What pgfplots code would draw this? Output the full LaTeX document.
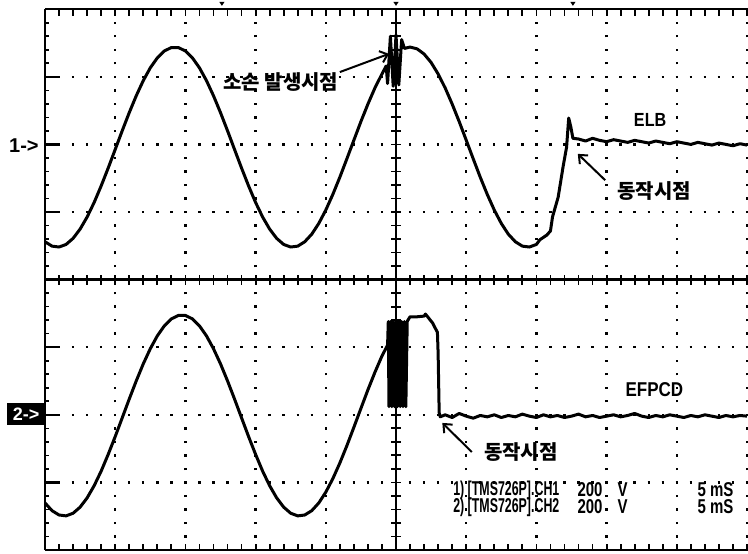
\documentclass[border=0pt]{standalone}
\usepackage{pgfplots}
\pgfplotsset{compat=1.18}
\usepackage{graphicx}
\usepackage{fontspec}
\setmainfont{Liberation Sans}
\newfontfamily\kr{Noto Sans CJK KR}
\usetikzlibrary{arrows.meta}

% one division = 70.2 px wide, 67.6 px high; 1 px = 0.5pt
\begin{document}
\begin{tikzpicture}
\begin{axis}[
  at={(0,0)}, anchor=south west,
  scale only axis, width=351pt, height=270.4pt,
  xmin=0, xmax=10, ymin=0, ymax=8,
  xtick={1,2,3,4,6,7,8,9,10}, ytick={1,2,3,5,6,7},
  xticklabels={}, yticklabels={},
  major tick length=0pt,
  axis line style={draw=none},
  grid=major,
  x grid style={black, line width=1.2pt, dash pattern=on 1.2pt off 5.56pt, dash phase=0.6pt},
  y grid style={black, line width=1.2pt, dash pattern=on 1.2pt off 5.82pt, dash phase=0.6pt},
  clip=false,
]
% CH1 (ELB)
\addplot[black, line width=1.5pt, line join=round] coordinates {
(0.0,4.56)(0.1,4.495)(0.2,4.482)(0.3,4.52)(0.4,4.61)(0.5,4.747)(0.6,4.926)(0.7,5.141)
(0.8,5.386)(0.9,5.65)(1.0,5.925)(1.1,6.202)(1.2,6.47)(1.3,6.72)(1.4,6.944)(1.5,7.133)
(1.6,7.28)(1.7,7.382)(1.8,7.433)(1.9,7.433)(2.0,7.382)(2.1,7.28)(2.2,7.133)(2.3,6.944)
(2.4,6.72)(2.5,6.47)(2.6,6.202)(2.7,5.925)(2.8,5.65)(2.9,5.386)(3.0,5.141)(3.1,4.926)
(3.2,4.747)(3.3,4.61)(3.4,4.52)(3.5,4.482)(3.6,4.495)(3.7,4.56)(3.8,4.672)(3.9,4.831)
(4.0,5.029)(4.1,5.26)(4.2,5.515)(4.3,5.787)(4.4,6.063)(4.5,6.338)(4.6,6.597)(4.7,6.836)
(4.8,7.042)(4.86,7.16)(4.88,6.9)(4.92,7.6)(4.96,6.86)(5.0,7.62)(5.04,6.88)(5.08,7.55)
(5.12,7.42)(5.2,7.44)(5.3,7.414)(5.4,7.337)(5.5,7.212)(5.6,7.042)
(5.7,6.836)(5.8,6.597)(5.9,6.338)(6.0,6.063)(6.1,5.787)(6.2,5.515)(6.3,5.26)(6.4,5.029)
(6.5,4.831)(6.6,4.672)(6.7,4.56)(6.8,4.495)(6.9,4.482)(7.0,4.52)(7.05,4.59)(7.15,4.66)
(7.2,4.72)(7.23,4.93)(7.31,5.22)(7.38,5.67)(7.43,5.96)(7.46,6.39)(7.49,6.26)(7.52,6.09)
(7.6,6.08)(7.7,6.05)(7.8,6.09)(7.9,6.06)(8.0,6.04)(8.1,6.07)(8.2,6.05)(8.3,6.03)
(8.4,6.06)(8.5,6.04)(8.6,6.02)(8.7,6.05)(8.8,6.03)(8.9,6.01)(9.0,6.04)(9.1,6.02)
(9.2,6.00)(9.3,6.03)(9.4,6.01)(9.5,5.99)(9.6,6.02)(9.7,6.00)(9.8,5.98)(9.9,6.01)(10.0,5.99)
};
% CH2 (EFPCD)
\addplot[black, line width=1.5pt, line join=round] coordinates {
(0.0,0.696)(0.1,0.582)(0.2,0.518)(0.3,0.505)(0.4,0.544)(0.5,0.634)(0.6,0.771)(0.7,0.951)
(0.8,1.167)(0.9,1.414)(1.0,1.678)(1.1,1.955)(1.2,2.233)(1.3,2.502)(1.4,2.754)(1.5,2.978)
(1.6,3.168)(1.7,3.316)(1.8,3.419)(1.9,3.470)(2.0,3.470)(2.1,3.419)(2.2,3.316)(2.3,3.168)
(2.4,2.978)(2.5,2.754)(2.6,2.502)(2.7,2.233)(2.8,1.955)(2.9,1.678)(3.0,1.414)(3.1,1.167)
(3.2,0.951)(3.3,0.771)(3.4,0.634)(3.5,0.544)(3.6,0.505)(3.7,0.518)(3.8,0.582)(3.9,0.696)
(4.0,0.856)(4.1,1.055)(4.2,1.287)(4.3,1.543)(4.4,1.816)(4.5,2.094)(4.6,2.370)(4.7,2.630)
(4.8,2.870)(4.88,3.03)
(4.89,3.38)(4.90,2.12)(4.92,3.38)(4.94,2.12)(4.96,3.38)(4.98,2.12)(5.00,3.38)(5.02,2.12)
(5.04,3.38)(5.06,2.12)(5.08,3.38)(5.10,2.12)(5.12,3.38)(5.14,2.12)(5.16,3.38)(5.17,3.40)
(5.20,3.45)(5.30,3.45)(5.40,3.46)(5.42,3.49)(5.52,3.36)(5.59,3.22)(5.60,2.91)(5.615,2.03)
(5.63,1.97)(5.7,2.0)(5.8,1.96)(5.9,2.02)(6.0,1.98)(6.1,1.95)(6.2,1.99)(6.3,1.97)
(6.4,2.0)(6.5,1.96)(6.6,1.99)(6.7,1.97)(6.8,2.01)(6.9,1.98)(7.0,1.96)(7.1,2.0)
(7.2,1.97)(7.3,1.99)(7.4,1.96)(7.5,1.98)(7.6,2.01)(7.7,1.97)(7.8,1.99)(7.9,1.96)
(8.0,1.98)(8.1,2.0)(8.2,1.97)(8.3,1.99)(8.4,2.02)(8.5,1.98)(8.6,1.96)(8.7,1.99)
(8.8,1.97)(8.9,2.0)(9.0,1.98)(9.1,1.96)(9.2,1.99)(9.3,1.97)(9.4,2.0)(9.5,1.98)
(9.6,1.96)(9.7,1.99)(9.8,1.97)(9.9,1.99)(10.0,1.98)
};
\end{axis}

\begin{scope}[x=35.1pt, y=33.8pt]
  % screen frame and centre cross
  \draw[line width=1pt] (0,0) -- (0,8);
  \draw[line width=1.3pt] (0,8) -- (10.1,8);
  \draw[line width=1pt] (0,0) -- (10.1,0);
  \draw[line width=1.4pt] (0,4) -- (10.1,4);
  \draw[line width=1.4pt] (5,0) -- (5,8);
  \foreach \i in {1,...,50} {
    \draw[line width=0.9pt] (\i/5,8) -- ++(0,-3.5pt);
    \draw[line width=0.9pt] (\i/5,0) -- ++(0,3pt);
    \draw[line width=0.9pt] (\i/5,4) ++(0,-2.5pt) -- ++(0,5pt);
  }
  \foreach \j in {1,...,39} {
    \draw[line width=0.8pt] (0,\j/5) -- ++(2pt,0);
    \draw[line width=0.9pt] (5,\j/5) ++(-2.5pt,0) -- ++(5pt,0);
  }
  \foreach \j in {1,2,3,5,6,7} {
    \draw[line width=1.1pt] (0,\j) -- ++(7pt,0);
  }
  % markers above the screen
  \foreach \m in {2.52,5.0,7.52} {
    \fill (\m,8.07) ++(-1.3pt,1.3pt) -- ++(2.6pt,0) -- ++(-1.3pt,-2pt) -- cycle;
  }
  % channel markers
  \node[font=\fontsize{10}{12}\selectfont\bfseries] at (-0.30,5.98) {1->};
  \fill[black] (-0.541,1.849) rectangle (0,2.175);
  \node[white, font=\fontsize{9}{11}\selectfont\bfseries] at (-0.27,2.012) {2->};
  % annotations
  \node[font=\kr\fontsize{10}{12}\selectfont\bfseries] at (3.36,6.92) {소손 발생시점};
  \draw[line width=1pt, -{Straight Barb[length=3.5pt,width=6pt]}] (4.20,7.07) -- (4.90,7.34);
  \node[font=\fontsize{9.5}{11}\selectfont\bfseries] at (8.62,6.36) {\scalebox{0.85}[1]{ELB}};
  \node[font=\kr\fontsize{10}{12}\selectfont\bfseries] at (8.68,5.31) {동작시점};
  \draw[line width=1pt, -{Straight Barb[length=3.5pt,width=6pt]}] (7.98,5.47) -- (7.59,5.86);
  \node[font=\fontsize{10}{12}\selectfont\bfseries] at (8.68,2.37) {\scalebox{0.85}[1]{EFPCD}};
  \node[font=\kr\fontsize{10}{12}\selectfont\bfseries] at (6.78,1.45) {동작시점};
  \draw[line width=1pt, -{Straight Barb[length=3.5pt,width=6pt]}] (6.08,1.45) -- (5.66,1.88);
  % scope settings
  \begin{scope}[every node/.style={anchor=west, inner sep=0pt, font=\fontsize{10}{12}\selectfont\bfseries}]
    \node at (5.81,0.888) {\scalebox{0.62}[1]{1) [TMS726P].CH1}};
    \node at (7.58,0.888) {\scalebox{0.75}[1]{200}};
    \node at (8.15,0.888) {\scalebox{0.75}[1]{V}};
    \node at (9.29,0.888) {\scalebox{0.75}[1]{5 mS}};
    \node at (5.81,0.636) {\scalebox{0.62}[1]{2) [TMS726P].CH2}};
    \node at (7.58,0.636) {\scalebox{0.75}[1]{200}};
    \node at (8.15,0.636) {\scalebox{0.75}[1]{V}};
    \node at (9.29,0.636) {\scalebox{0.75}[1]{5 mS}};
  \end{scope}
\end{scope}

\pgfresetboundingbox
\path[use as bounding box] (-22.5pt,-1.5pt) rectangle (351.5pt,275pt);
\end{tikzpicture}
\end{document}
